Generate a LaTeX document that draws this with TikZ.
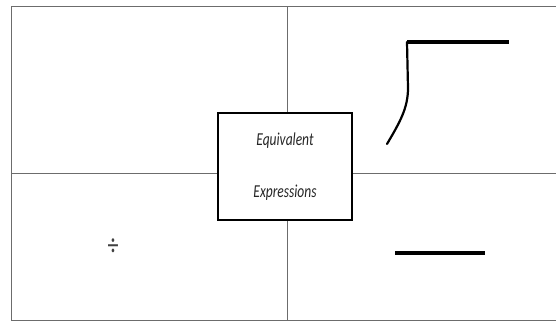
\documentclass[tikz,border=0pt]{standalone}
\usepackage{fontspec}
\setmainfont{Carlito}
\usetikzlibrary{positioning}

\begin{document}
\begin{tikzpicture}[x=1pt,y=-1pt,
    gridline/.style={draw=gray!85!black,line width=1pt},
    strokeline/.style={line width=3.5pt},
    curveline/.style={line width=2.2pt,line cap=round}]
    \useasboundingbox (0,0) rectangle (556,322);

    % Frame and cross lines
    \coordinate (top) at (287,6);
    \coordinate (bottom) at (287,320);
    \coordinate (left) at (11,173);
    \coordinate (right) at (556,173);
    \draw[gridline] (556,6) -| (11,320) -- (556,320);
    \draw[gridline] (top) -- (bottom);
    \draw[gridline] (left) -- (right);

    % Centre box
    \node[draw,line width=2.8pt,fill=white,minimum width=134pt,minimum height=107pt,
          align=center,font=\fontsize{13.5}{15}\selectfont\itshape,text=black!85] (expr) at (285,166.5)
        {\scalebox{1}[1.35]{Equivalent}\\[36pt]\scalebox{1}[1.35]{Expressions}};

    % Division sign
    \node[font=\fontsize{22}{24}\selectfont,text=black!75] (divsign) at (113,247) {\scalebox{1}[1.4]{÷}};

    % Radical sign
    \coordinate (rootfoot) at (387,144);
    \coordinate (rootknee) at (408,88);
    \coordinate (rootcorner) at (407,42);
    \coordinate (rootend) at (509,42);
    \draw[curveline] (rootfoot) .. controls (400,122) and (408,108) .. (rootknee) -- (rootcorner);
    \draw[strokeline] (rootcorner) -- (rootend);

    % Subtraction bar
    \coordinate (minusleft) at (395,253);
    \coordinate (minusright) at (485,253);
    \draw[strokeline] (minusleft) -- (minusright);
\end{tikzpicture}
\end{document}
